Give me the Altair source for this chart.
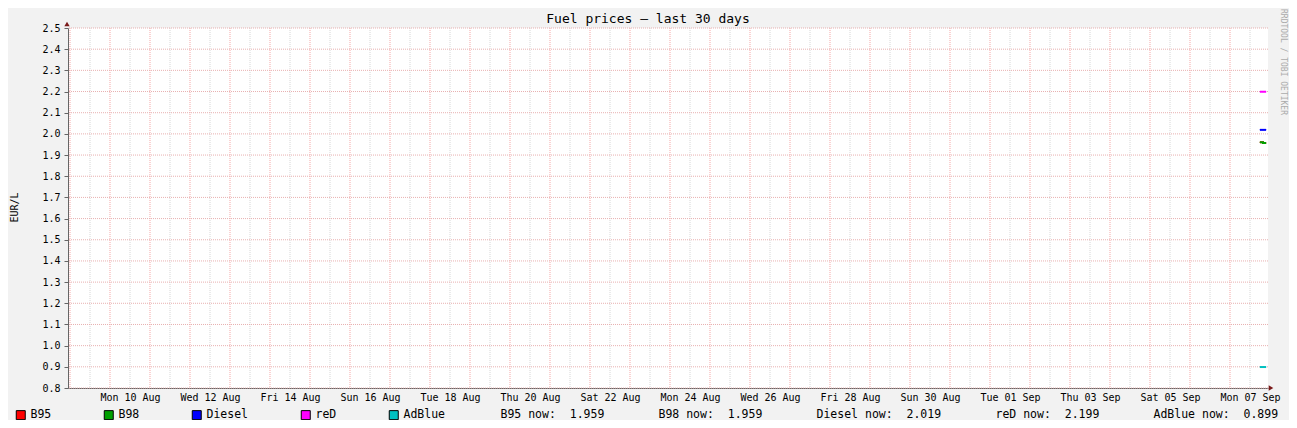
import altair as alt
import pandas as pd

FONT = "DejaVu Sans Mono"

# ---- data ----
title_text = "Fuel prices \u2013 last 30 days"
watermark_text = "RRDTOOL / TOBI OETIKER"
fuels = ["B95", "B98", "Diesel", "reD", "AdBlue"]
colors = ["#FF0000", "#00A000", "#0000FF", "#FF00FF", "#00C0C0"]
times = ["2020-09-07T18:00:00Z", "2020-09-07T19:48:00Z", "2020-09-07T21:36:00Z"]
b95 = [1.961, 1.957, 1.957]
b98 = [1.961, 1.957, 1.957]
diesel = [2.019, 2.019, 2.019]
red_diesel = [2.199, 2.199, 2.199]
adblue = [0.899, 0.899, 0.899]
now_values = [1.959, 1.959, 2.019, 2.199, 0.899]
y_ticks = [0.8, 0.9, 1.0, 1.1, 1.2, 1.3, 1.4, 1.5, 1.6, 1.7, 1.8, 1.9,
           2.0, 2.1, 2.2, 2.3, 2.4, 2.5]
label_days = ["2020-08-10", "2020-08-12", "2020-08-14", "2020-08-16", "2020-08-18",
              "2020-08-20", "2020-08-22", "2020-08-24", "2020-08-26", "2020-08-28",
              "2020-08-30", "2020-09-01", "2020-09-03", "2020-09-05", "2020-09-07"]

series = {"B95": b95, "B98": b98, "Diesel": diesel, "reD": red_diesel, "AdBlue": adblue}
rows = []
for name, vals in series.items():
    for t, v in zip(times, vals):
        rows.append({"fuel": name, "t": t, "v": v})
series_df = pd.DataFrame(rows)

now_labels = [f"{n} now:\u00a0\u00a0{v:.3f}" for n, v in zip(fuels, now_values)]
now_df = pd.DataFrame({"now": now_labels, "t": [times[-1]] * 5, "v": now_values})

# grid positions (midnights = major, noons = minor)
majors = pd.date_range("2020-08-09", "2020-09-07", freq="D", tz="UTC")
minors = majors + pd.Timedelta(hours=12)
major_df = pd.DataFrame({"t": [d.strftime("%Y-%m-%dT%H:%M:%SZ") for d in majors]})
minor_df = pd.DataFrame({"t": [d.strftime("%Y-%m-%dT%H:%M:%SZ") for d in minors]})
hgrid_df = pd.DataFrame({"v": y_ticks})

dom_start = alt.DateTime(year=2020, month=8, date=8, hours=22, minutes=48, utc=True)
dom_end = alt.DateTime(year=2020, month=9, date=7, hours=22, minutes=48, utc=True)
xscale = alt.Scale(type="utc", domain=[dom_start, dom_end])
yscale = alt.Scale(domain=[0.8, 2.5], nice=False, zero=False)

label_values = []
for d in label_days:
    y, m, dd = d.split("-")
    label_values.append(alt.DateTime(year=int(y), month=int(m), date=int(dd), hours=12, utc=True))

arrow_df = pd.DataFrame({
    "t": ["2020-08-08T22:48:00Z", "2020-09-07T22:48:00Z"],
    "v": [2.5, 0.8],
})

x_axis = alt.Axis(values=label_values, format="%a %d %b", labelFont=FONT,
                  labelFontSize=10, labelColor="black", ticks=False,
                  labelPadding=4, domainColor="#666666", domainWidth=1,
                  grid=False, labelAngle=0, labelOverlap=False,
                  labelBaseline="top", title=None)
y_axis = alt.Axis(values=y_ticks, format=".1f", title="EUR/L", titleFont=FONT,
                  titleFontSize=10, titleFontWeight="normal", titleColor="black",
                  titleAngle=270, titleX=-54, titleY=179, titleAlign="center",
                  titleBaseline="middle",
                  labelFont=FONT, labelFontSize=10, labelColor="black",
                  tickSize=4, tickColor="#666666", labelPadding=4,
                  domainColor="#666666", domainWidth=1, grid=False,
                  labelOverlap=False)


def X():
    return alt.X("t:T", scale=xscale, axis=x_axis, title=None)


def Y():
    return alt.Y("v:Q", scale=yscale, axis=y_axis, title="EUR/L")


# ---- layers ----
minor_grid = alt.Chart(minor_df).mark_rule(
    color="#D6D6D6", strokeWidth=1, strokeDash=[1, 1]
).encode(x=X())

major_grid = alt.Chart(major_df).mark_rule(
    color="#F5A5A5", strokeWidth=1, strokeDash=[1, 1]
).encode(x=X())

h_grid = alt.Chart(hgrid_df).mark_rule(
    color="#E8B0B0", strokeWidth=1, strokeDash=[1, 1]
).encode(y=Y())

# swatch legend (filled squares with black border), hidden under the lines
swatches = alt.Chart(series_df).mark_square(filled=True, size=1).encode(
    x=X(), y=Y(),
    fill=alt.Fill("fuel:N", scale=alt.Scale(domain=fuels, range=colors),
                  legend=alt.Legend(orient="none", legendX=-53, legendY=381,
                                    direction="horizontal", title=None,
                                    symbolType="square", symbolSize=81,
                                    symbolStrokeColor="black", symbolStrokeWidth=1,
                                    symbolOpacity=1,
                                    labelFont=FONT, labelFontSize=11.5,
                                    labelColor="black", labelOffset=4,
                                    columnPadding=50, padding=0)),
)

lines = alt.Chart(series_df).mark_line(interpolate="step-after", strokeWidth=2).encode(
    x=X(), y=Y(),
    stroke=alt.Stroke("fuel:N", scale=alt.Scale(domain=fuels, range=colors), legend=None),
)

now_layer = alt.Chart(now_df).mark_point(opacity=0).encode(
    x=X(), y=Y(),
    shape=alt.Shape("now:N", scale=alt.Scale(domain=now_labels),
                    legend=alt.Legend(orient="none", legendX=421, legendY=381,
                                      direction="horizontal", title=None,
                                      symbolSize=0, symbolOpacity=0,
                                      symbolStrokeWidth=0, labelOffset=0,
                                      labelFont=FONT, labelFontSize=11.5,
                                      labelColor="black", columnPadding=42,
                                      padding=0)),
)

arrow_up = alt.Chart(arrow_df.iloc[[0]]).mark_point(
    filled=True, size=28, color="#7A1A1A", opacity=1, shape="triangle-up", yOffset=-4, xOffset=-1
).encode(x=X(), y=Y())

arrow_right = alt.Chart(arrow_df.iloc[[1]]).mark_point(
    filled=True, size=28, color="#7A1A1A", opacity=1, shape="triangle-right", xOffset=3
).encode(x=X(), y=Y())

watermark = alt.Chart(pd.DataFrame({"txt": [watermark_text]})).mark_text(
    angle=90, font=FONT, fontSize=8, color="#ABABAB", align="center", baseline="middle"
).encode(text="txt:N", x=alt.value(1215), y=alt.value(34))

title_mark = alt.Chart(pd.DataFrame({"txt": [title_text]})).mark_text(
    font=FONT, fontSize=13, color="black", align="center", baseline="alphabetic"
).encode(text="txt:N", x=alt.value(580), y=alt.value(-5))

chart = alt.layer(
    minor_grid, major_grid, h_grid, swatches, lines, now_layer, arrow_up, arrow_right,
    watermark, title_mark
).resolve_scale(fill="independent", stroke="independent", shape="independent").properties(
    width=1200, height=360,
    autosize=alt.AutoSizeParams(type="none"),
    padding={"left": 60, "top": 20, "right": 21, "bottom": 32},
).configure(background="#F2F2F2").configure_view(fill="white", strokeWidth=0)

chart.save("out.html", embed_options={"renderer": "svg", "actions": False})
